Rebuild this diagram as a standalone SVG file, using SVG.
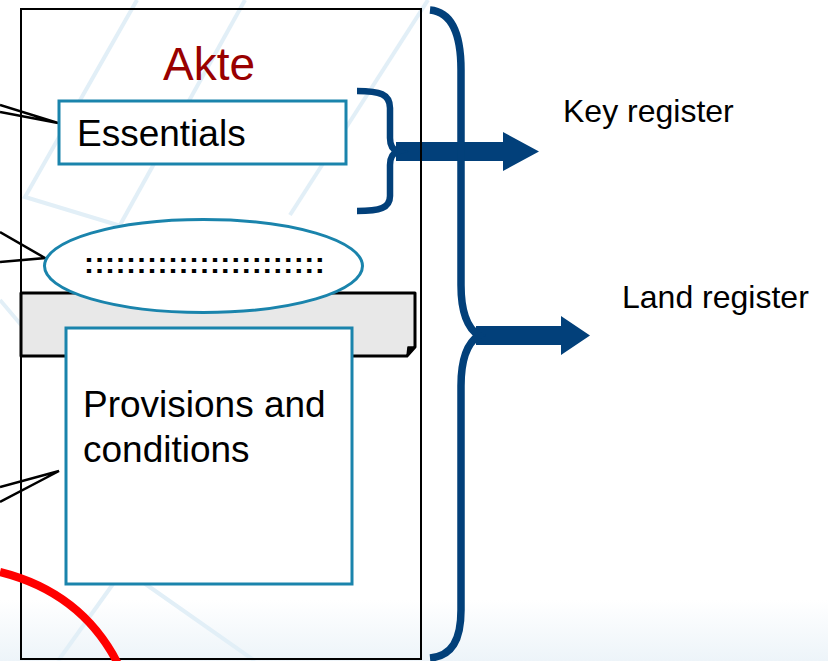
<svg xmlns="http://www.w3.org/2000/svg" width="828" height="661" viewBox="0 0 828 661">
  <defs>
    <linearGradient id="floor" x1="0" y1="0" x2="0" y2="1">
      <stop offset="0" stop-color="#ffffff"/>
      <stop offset="1" stop-color="#edf4f9"/>
    </linearGradient>
  </defs>
  <style>
    .bgline { stroke: #e2eff7; stroke-width: 4; fill: none; }
    .box { fill: #ffffff; stroke: #1a84ac; stroke-width: 3; }
    .call { fill: none; stroke: #000000; stroke-width: 2.5; stroke-linejoin: miter; }
    .brace { fill: none; stroke: #02407a; stroke-linecap: butt; }
    .arrow { fill: #02407a; }
    .lbl { font-family: "Liberation Sans", Arial, sans-serif; fill: #000000; }
  </style>

  <!-- background -->
  <rect x="0" y="0" width="828" height="661" fill="#ffffff"/>
  <rect x="0" y="600" width="828" height="61" fill="url(#floor)"/>
  <g id="background">
    <path class="bgline" d="M137,0 L25,197 L200,250"/>
    <path class="bgline" d="M245,0 L120,225"/>
    <path class="bgline" d="M428,0 L290,215"/>
    <path class="bgline" d="M0,300 L22,326"/>
    <path class="bgline" d="M58,661 L128,563"/>
    <path class="bgline" d="M144,583 L255,661"/>
  </g>

  <!-- connectors -->
  <g id="connectors">
    <path class="call" d="M0,105 L58,123 L0,112"/>
    <path class="call" d="M0,232 L45,258 L0,262"/>
    <path class="call" d="M0,487 L59,471 L0,502"/>
    <polygon class="arrow" points="396,142 503,142 503,132 539,151.5 503,171 503,161 396,161"/>
    <polygon class="arrow" points="476,326 561,326 561,316 590,335.5 561,355 561,345 476,345"/>
  </g>

  <!-- main frame -->
  <g id="akte-frame">
    <rect x="21" y="9" width="400" height="650" fill="none" stroke="#000000" stroke-width="2"/>
    <text class="lbl" x="163" y="80" font-size="46" style="fill:#990000">Akte</text>
  </g>

  <g id="essentials">
    <rect class="box" x="59" y="101" width="287" height="63"/>
    <text class="lbl" x="77" y="146" font-size="37">Essentials</text>
  </g>

  <g id="band">
    <path d="M21,293 H415 V347 L407,356 H21 Z" fill="#e8e8e8" stroke="#000000" stroke-width="3" stroke-linejoin="round"/>
    <path d="M415,347 L408,347 L407,356 Z" fill="#000000" stroke="#000000" stroke-width="1.5" stroke-linejoin="round"/>
  </g>

  <g id="ellipse-node">
    <ellipse cx="203.5" cy="266" rx="159" ry="46.5" fill="#ffffff" stroke="#1a84ac" stroke-width="3"/>
    <text class="lbl" x="84" y="273" font-size="30" font-weight="bold" letter-spacing="0.5">:::::::::::::::::::::::</text>
  </g>

  <g id="provisions">
    <rect class="box" x="66" y="328" width="286" height="256"/>
    <text class="lbl" x="83" y="417" font-size="37">Provisions and</text>
    <text class="lbl" x="83" y="462" font-size="37">conditions</text>
  </g>

  <g id="small-brace">
    <path class="brace" stroke-width="6.5" d="M357,91 C380,91 390,94 390,108 V138 C390,146 393,150 398,151.5 C393,153 390,157 390,165 V196 C390,208 380,211 357,211"/>
  </g>

  <g id="big-brace">
    <path class="brace" stroke-width="7.5" d="M430,10 C452,12 461,35 461,70 V285 C461,312 467,328 479,335.5 C467,343 461,358 461,386 V610 C461,640 452,656 430,658"/>
  </g>

  <g id="key-register">
    <text class="lbl" x="563" y="122" font-size="32">Key register</text>
  </g>
  <g id="land-register">
    <text class="lbl" x="622" y="308" font-size="32">Land register</text>
  </g>

  <g id="red-curve">
    <path d="M0,572 Q84,593 120,668" fill="none" stroke="#ff0000" stroke-width="8"/>
  </g>
</svg>
